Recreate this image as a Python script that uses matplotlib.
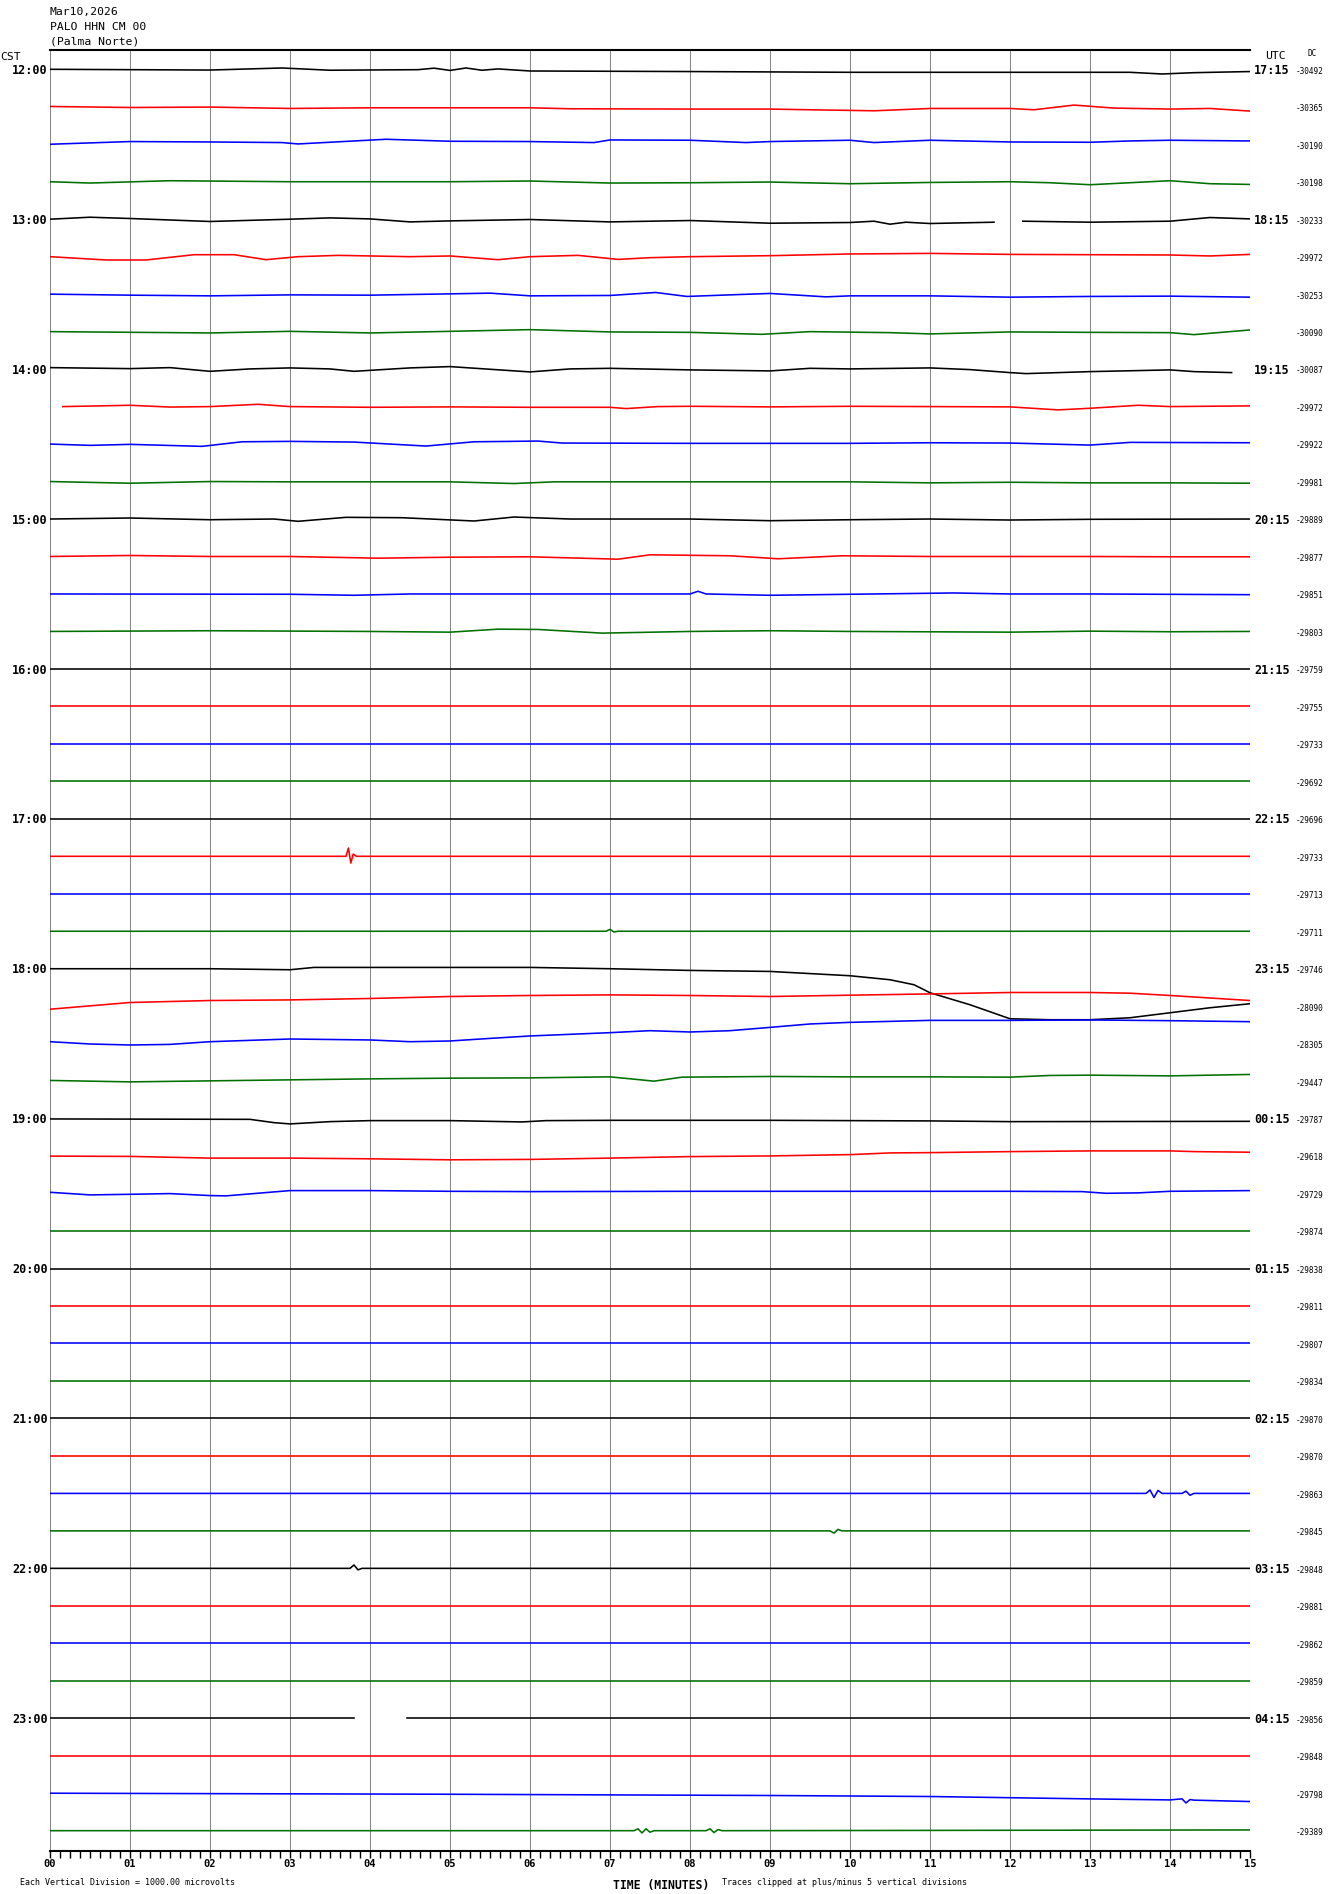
import numpy as np
import matplotlib.pyplot as plt

nan = np.nan

# header / labels
header = ['Mar10,2026', 'PALO HHN CM 00', '(Palma Norte)']
cst_hours = ['12:00', '13:00', '14:00', '15:00', '16:00', '17:00',
             '18:00', '19:00', '20:00', '21:00', '22:00', '23:00']
utc_hours = ['17:15', '18:15', '19:15', '20:15', '21:15', '22:15',
             '23:15', '00:15', '01:15', '02:15', '03:15', '04:15']
dc_values = [-30492, -30365, -30190, -30198, -30233, -29972, -30253, -30090,
             -30087, -29972, -29922, -29981, -29889, -29877, -29851, -29803,
             -29759, -29755, -29733, -29692, -29696, -29733, -29713, -29711,
             -29746, -28090, -28305, -29447, -29787, -29618, -29729, -29874,
             -29838, -29811, -29807, -29834, -29870, -29870, -29863, -29845,
             -29848, -29881, -29862, -29859, -29856, -29848, -29798, -29389]
line_colors = ['#000000', '#ff0000', '#0000ff', '#007000']
minute_labels = ['%02d' % m for m in range(16)]

# wander of each 15 min line: (minutes, microvolts), nan = no data
flat = ([0, 15], [0, 0])
drift = [
    # 12:00
    ([0, 2, 2.9, 3.5, 4.6, 4.8, 5.0, 5.2, 5.4, 5.6, 6, 8, 10, 13.5, 13.9, 14.3, 15],
     [0, -20, 35, -25, -10, 30, -30, 35, -25, 10, -45, -60, -80, -80, -125, -90, -60]),
    # 12:15
    ([0, 1, 2, 3, 4, 6, 6.5, 8, 9, 9.5, 10.3, 11, 12, 12.3, 12.8, 13.3, 14, 14.5, 15],
     [8, -19, -8, -45, -27, -27, -53, -61, -61, -80, -107, -45, -45, -80, 45, -35, -61, -45, -115]),
    # 12:30
    ([0, 1, 2, 2.9, 3.1, 4.2, 5, 6, 6.8, 7, 8, 8.7, 9, 10, 10.3, 11, 12, 13, 13.5, 14, 15],
     [0, 72, 61, 45, 8, 133, 80, 72, 45, 115, 107, 45, 72, 107, 45, 107, 61, 53, 88, 107, 88]),
    # 12:45
    ([0, 0.5, 1.5, 3, 5, 6, 7, 8, 9, 10, 11, 12, 12.5, 13, 14, 14.5, 15],
     [0, -35, 27, 0, 0, 19, -35, -27, -8, -53, -19, 0, -27, -80, 27, -53, -72]),
    # 13:00
    ([0, 0.5, 1, 2, 3, 3.5, 4, 4.5, 5, 6, 7, 8, 9, 10, 10.3, 10.5, 10.7, 11, 11.8,
      11.95, 12.16, 13, 14, 14.5, 15],
     [0, 53, 19, -61, 0, 35, 8, -72, -45, -8, -72, -35, -107, -88, -53, -133, -80, -115, -80,
      nan, -53, -80, -53, 45, 8]),
    # 13:15
    ([0, 0.7, 1.2, 1.8, 2.3, 2.7, 3.1, 3.6, 4.5, 5.0, 5.6, 6.0, 6.6, 7.1, 7.5, 8, 9, 10, 11,
      12, 13, 14, 14.5, 15],
     [0, -88, -88, 53, 53, -80, 0, 35, 0, 19, -80, 0, 35, -72, -27, 0, 27, 72, 88,
      61, 53, 45, 19, 61]),
    # 13:30
    ([0, 1, 2, 3, 4, 5, 5.5, 6, 7, 7.57, 7.96, 8.5, 9, 9.7, 10, 11, 12, 13, 14, 15],
     [0, -27, -45, -19, -27, 8, 27, -45, -35, 45, -61, -19, 19, -72, -45, -45, -80, -61, -53, -80]),
    # 13:45
    ([0, 2, 3, 4, 5, 6, 7, 8, 8.9, 9.5, 10.5, 11, 12, 13, 14, 14.3, 15],
     [0, -35, 8, -35, 8, 53, -8, -19, -72, 0, -27, -61, -8, -19, -27, -80, 45]),
    # 14:00
    ([0, 1, 1.5, 2, 2.5, 3, 3.5, 3.8, 4.5, 5, 6, 6.5, 7, 8, 9, 9.5, 10, 11, 11.5, 12, 12.2,
      13, 14, 14.3, 14.77],
     [40, 13, 40, -59, 5, 32, 5, -59, 32, 67, -75, 5, 21, -21, -48, 21, 5, 32, -13, -93, -120,
      -67, -21, -67, -93]),
    # 14:15
    ([0.16, 1, 1.5, 2, 2.6, 3, 4, 5, 6, 7, 7.2, 7.6, 8, 9, 10, 11, 12, 12.6, 13, 13.6, 14, 15],
     [0, 35, -13, 0, 61, 0, -19, -8, -19, -19, -53, 0, 8, -8, 8, 0, -8, -88, -45, 35, 0, 19]),
    # 14:30
    ([0, 0.5, 1, 1.9, 2.4, 3, 3.8, 4.7, 5.3, 6.1, 6.4, 8, 10, 11, 12, 13, 13.5, 15],
     [0, -35, -8, -61, 61, 72, 53, -53, 61, 80, 27, 19, 19, 35, 27, -27, 45, 35]),
    # 14:45
    ([0, 1, 2, 3, 5, 5.8, 6.3, 8, 10, 11, 12, 13, 14, 15],
     [0, -45, 0, -8, -8, -53, -8, -8, -8, -35, -19, -35, -35, -45]),
    # 15:00
    ([0, 1, 2, 2.8, 3.1, 3.7, 4.4, 5.3, 5.8, 6.5, 8, 9, 10, 11, 12, 13, 15],
     [0, 27, -19, 0, -61, 45, 35, -53, 53, 0, 0, -45, -19, 0, -27, -8, 0]),
    # 15:15
    ([0, 1, 2, 3, 4.1, 5, 6, 7.1, 7.5, 8.5, 9.1, 9.9, 11, 12, 13, 14, 15],
     [0, 27, 0, 0, -45, -19, -8, -72, 45, 19, -61, 19, 0, 0, 0, -8, -8]),
    # 15:30
    ([0, 3, 3.8, 4.5, 6, 8, 8.1, 8.2, 9, 10, 11.3, 12, 13, 15],
     [0, -8, -35, 0, 0, 0, 72, 0, -35, -8, 27, 0, 0, -19]),
    # 15:45
    ([0, 2, 4, 5, 5.6, 6.1, 6.9, 8, 9, 10, 12, 13, 14, 15],
     [0, 19, 0, -19, 61, 53, -45, 0, 19, 0, -19, 8, -8, 0]),
    flat, flat, flat, flat,                      # 16:00 - 16:45
    flat,                                        # 17:00
    ([0, 3.70, 3.73, 3.76, 3.79, 3.83, 15], [0, 0, 220, -180, 60, 0, 0]),   # 17:15
    flat,                                        # 17:30
    ([0, 6.95, 7.0, 7.05, 7.1, 15], [0, 0, 50, -20, 0, 0]),                 # 17:45
    # 18:00
    ([0, 2, 3, 3.3, 6, 7, 8, 9, 10, 10.5, 10.8, 11, 11.5, 12, 12.5, 13, 13.5, 14, 14.5, 15],
     [0, 0, -27, 35, 35, 0, -45, -72, -187, -294, -427, -641, -961, -1335, -1361, -1361,
      -1308, -1175, -1041, -934]),
    # 18:15
    ([0, 1, 2, 3, 4, 5, 6, 7, 8, 9, 10, 11, 12, 13, 13.5, 14, 15],
     [-80, 99, 152, 168, 206, 259, 286, 302, 286, 259, 294, 328, 366, 366, 347, 286, 152]),
    # 18:30
    ([0, 0.5, 1, 1.5, 2, 3, 4, 4.5, 5, 5.5, 6, 7, 7.5, 8, 8.5, 9, 9.5, 10, 11, 12, 13, 14, 15],
     [53, -8, -35, -19, 53, 125, 99, 53, 72, 141, 206, 294, 347, 312, 347, 435, 526, 569, 622,
      622, 633, 614, 587]),
    # 18:45
    ([0, 1, 2, 3, 4, 5, 6, 7, 7.3, 7.55, 7.9, 9, 10, 11, 12, 12.5, 13, 14, 15],
     [19, -19, 8, 35, 61, 80, 88, 115, 53, 0, 107, 125, 115, 115, 107, 152, 160, 141, 179]),
    # 19:00
    ([0, 2.5, 2.8, 3.0, 3.5, 4, 5, 5.9, 6.2, 7, 9, 11, 12, 15],
     [-8, -19, -107, -141, -80, -53, -53, -88, -53, -45, -45, -61, -80, -72]),
    # 19:15
    ([0, 1, 2, 3, 4, 5, 6, 7, 8, 9, 10, 10.5, 11, 12, 13, 14, 14.3, 15],
     [0, -8, -53, -53, -72, -99, -88, -53, -13, 5, 40, 85, 93, 120, 139, 139, 120, 104]),
    # 19:30
    ([0, 0.5, 1, 1.5, 2, 2.2, 3, 4, 5, 6, 8, 10, 12, 12.9, 13.2, 13.6, 14, 15],
     [35, -35, -19, 0, -53, -61, 80, 80, 61, 53, 61, 61, 61, 53, 8, 19, 61, 80]),
    flat,                                        # 19:45
    flat, flat, flat, flat,                      # 20:00 - 20:45
    flat, flat,                                  # 21:00, 21:15
    # 21:30
    ([0, 13.7, 13.75, 13.8, 13.85, 13.9, 14.15, 14.2, 14.25, 14.3, 15],
     [0, 0, 90, -110, 80, 0, 0, 60, -50, 0, 0]),
    ([0, 9.75, 9.8, 9.85, 9.9, 15], [0, 0, -60, 40, 0, 0]),                 # 21:45
    ([0, 3.75, 3.8, 3.85, 3.9, 15], [0, 0, 90, -40, 0, 0]),                 # 22:00
    flat, flat, flat,                            # 22:15 - 22:45
    ([0, 3.8, 4.1, 4.46, 15], [0, 0, nan, 0, 0]),                            # 23:00
    flat,                                        # 23:15
    # 23:30
    ([0, 4.9, 7, 9, 11, 13, 14, 14.15, 14.2, 14.25, 14.3, 15],
     [0, -27, -45, -61, -88, -152, -179, -150, -260, -170, -185, -222]),
    # 23:45
    ([0, 7.3, 7.35, 7.4, 7.45, 7.5, 7.55, 8.2, 8.25, 8.3, 8.35, 8.4, 15],
     [0, 0, 50, -60, 50, -40, 0, 0, 50, -50, 30, 0, 20]),
]

W, H = 1330, 1894
fig = plt.figure(figsize=(W / 100, H / 100), dpi=100)
ax = fig.add_axes([50 / W, 1 - 1851 / H, 1200 / W, 1801 / H])
ax.set_xlim(0, 15)
ax.set_ylim(-47.542, 0.515)

mono = 'DejaVu Sans Mono'

# minute grid
for m in range(16):
    ax.axvline(m, color='#888888', lw=0.75, zorder=1)

# traces, one division = 1000 microvolts
for k, (mins, uv) in enumerate(drift):
    x = np.array(mins, dtype=float)
    y = -k + np.array(uv, dtype=float) / 1000.0
    ax.plot(x, y, color=line_colors[k % 4], lw=1.15, zorder=3)

    ax.text(15.57, -k - 0.05, '%d' % dc_values[k], family=mono, size=5.6,
            ha='left', va='center', clip_on=False)
    if k % 4 == 0:
        ax.text(-0.03, -k - 0.03, cst_hours[k // 4], family=mono, weight='bold',
                size=8.5, ha='right', va='center', clip_on=False)
        ax.text(15.05, -k - 0.03, utc_hours[k // 4], family=mono, weight='bold',
                size=8.5, ha='left', va='center', clip_on=False)

for s in ['left', 'right']:
    ax.spines[s].set_visible(False)
ax.spines['top'].set_linewidth(1.5)
ax.spines['bottom'].set_linewidth(1.5)
ax.set_yticks([])
ax.set_xticks(range(16))
ax.set_xticklabels(minute_labels, family=mono, weight='bold', size=7.5)
ax.set_xticks(np.arange(0, 15.001, 0.125), minor=True)
ax.tick_params(axis='x', which='both', direction='out', length=5, width=1, pad=1)

# header text
for i, t in enumerate(header):
    fig.text(50 / W, 1 - (12 + 15 * i) / H, t, family=mono, size=8.2, va='center')
fig.text(0, 1 - 57 / H, 'CST', family=mono, size=8.2, va='center')
fig.text(1275 / W, 1 - 56 / H, 'UTC', family=mono, size=8.2, va='center', ha='center')
fig.text(1312 / W, 1 - 54 / H, 'DC', family=mono, size=5.5, va='center', ha='center')

fig.text(661 / W, 1 - 1885 / H, 'TIME (MINUTES)', family=mono, weight='bold', size=8.3,
         va='center', ha='center')
fig.text(20 / W, 1 - 1882 / H, 'Each Vertical Division = 1000.00 microvolts', family=mono,
         size=6.0, va='center')
fig.text(722 / W, 1 - 1882 / H, 'Traces clipped at plus/minus 5 vertical divisions',
         family=mono, size=6.0, va='center')

fig.savefig('out.png', dpi=100)
